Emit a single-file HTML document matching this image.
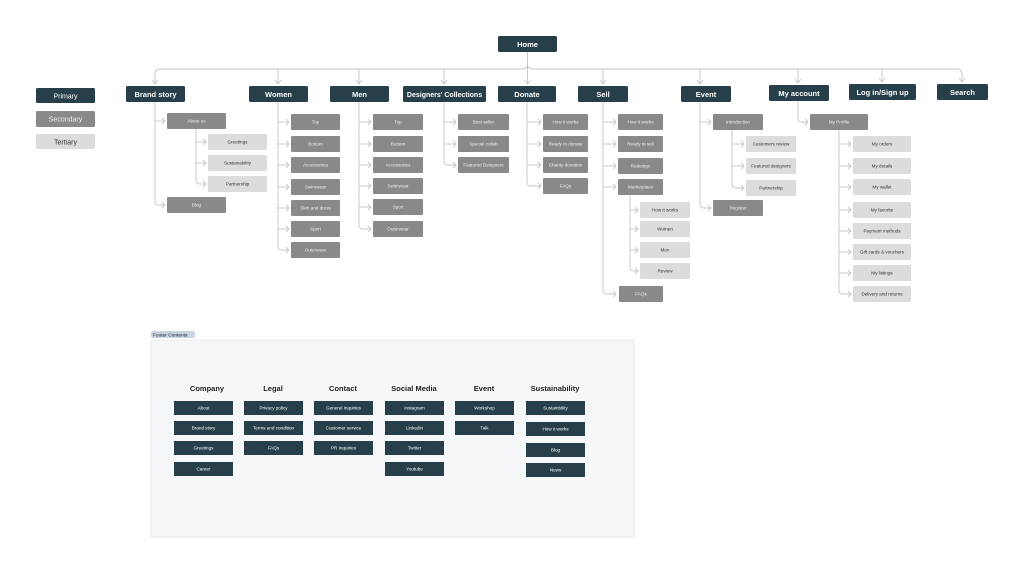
<!DOCTYPE html>
<html><head><meta charset="utf-8"><style>
html,body{margin:0;padding:0;background:#fff;width:1024px;height:574px;overflow:hidden}
svg{display:block;font-family:"Liberation Sans",sans-serif}
.p{fill:#263f4a}.s{fill:#898989}.t{fill:#dcdcdc}
.pt{fill:#fff;font-weight:bold;font-size:7.5px}
.st{fill:#f0f0f0;font-size:4.6px}
.tt{fill:#333;font-size:4.6px}
.ft{fill:#fff;font-size:4.6px}
.h{fill:#222;font-weight:bold;font-size:7.5px}
path,polyline{fill:none;stroke:#c6c6c6;stroke-width:0.9}
</style></head><body>
<svg width="1024" height="574" viewBox="0 0 1024 574">
<path d="M527.5 52 V64 Q527.5 69 522 69 H160 Q155 69 155 74 V84"/>
<path d="M527.5 64 Q527.5 69 533 69 H957 Q962 69 962 74 V82"/>
<path d="M527.5 64 V84"/>
<g>
<path d="M278 69V84"/><path d="M359 69V84"/><path d="M444 69V84"/><path d="M603 69V84"/><path d="M700 69V84"/><path d="M798 69V83"/><path d="M882 69V82"/>
<polyline points="152,80 155,84 158,80"/><polyline points="275,80 278,84 281,80"/><polyline points="356,80 359,84 362,80"/><polyline points="441,80 444,84 447,80"/><polyline points="524.5,80 527.5,84 530.5,80"/><polyline points="600,80 603,84 606,80"/><polyline points="697,80 700,84 703,80"/><polyline points="795,79 798,83 801,79"/><polyline points="879,78 882,82 885,78"/><polyline points="959,78 962,82 965,78"/>
</g>
<rect class="p" x="36" y="88" width="59" height="15" rx="1.5"/><text x="65.5" y="98.3" text-anchor="middle" style="fill:#fff;font-size:7px">Primary</text>
<rect class="s" x="36" y="111" width="59" height="16" rx="1.5"/><text x="65.5" y="121.5" text-anchor="middle" style="fill:#eee;font-size:7px">Secondary</text>
<rect class="t" x="36" y="134" width="59" height="15" rx="1.5"/><text x="65.5" y="144.3" text-anchor="middle" style="fill:#333;font-size:7px">Tertiary</text>
<rect class="p" x="498" y="36" width="59" height="16" rx="1.5"/><text class="pt" x="527.5" y="46.8" text-anchor="middle">Home</text>
<rect class="p" x="126" y="86" width="59" height="16" rx="1.5"/><text class="pt" x="155.5" y="96.8" text-anchor="middle">Brand story</text>
<rect class="p" x="249" y="86" width="59" height="16" rx="1.5"/><text class="pt" x="278.5" y="96.8" text-anchor="middle">Women</text>
<rect class="p" x="330" y="86" width="59" height="16" rx="1.5"/><text class="pt" x="359.5" y="96.8" text-anchor="middle">Men</text>
<rect class="p" x="403" y="86" width="83" height="16" rx="1.5"/><text class="pt" x="444.5" y="96.8" text-anchor="middle" style="font-size:7px">Designers' Collections</text>
<rect class="p" x="498" y="86" width="58" height="16" rx="1.5"/><text class="pt" x="527" y="96.8" text-anchor="middle">Donate</text>
<rect class="p" x="578" y="86" width="50" height="16" rx="1.5"/><text class="pt" x="603" y="96.8" text-anchor="middle">Sell</text>
<rect class="p" x="681" y="86" width="50" height="16" rx="1.5"/><text class="pt" x="706" y="96.8" text-anchor="middle">Event</text>
<rect class="p" x="769" y="85" width="60" height="16" rx="1.5"/><text class="pt" x="799" y="95.8" text-anchor="middle">My account</text>
<rect class="p" x="849" y="84" width="67" height="16" rx="1.5"/><text class="pt" x="882.5" y="94.8" text-anchor="middle">Log in/Sign up</text>
<rect class="p" x="937" y="84" width="51" height="16" rx="1.5"/><text class="pt" x="962.5" y="94.8" text-anchor="middle">Search</text>

<path d="M155 102V201Q155 205 159 205H165"/><path d="M155 121H165"/>
<polyline points="162,118 165,121 162,124"/><polyline points="162,202 165,205 162,208"/>
<rect class="s" x="167" y="113" width="59" height="16" rx="1"/><text class="st" x="196.5" y="122.7" text-anchor="middle">About us</text>
<rect class="s" x="167" y="197" width="59" height="16" rx="1"/><text class="st" x="196.5" y="206.7" text-anchor="middle">Blog</text>
<path d="M196 129V180Q196 184 200 184H206"/><path d="M196 142H206"/><path d="M196 163H206"/>
<polyline points="203,139 206,142 203,145"/><polyline points="203,160 206,163 203,166"/><polyline points="203,181 206,184 203,187"/>
<rect class="t" x="208" y="134" width="59" height="16" rx="1"/><text class="tt" x="237.5" y="143.7" text-anchor="middle">Greetings</text>
<rect class="t" x="208" y="155" width="59" height="16" rx="1"/><text class="tt" x="237.5" y="164.7" text-anchor="middle">Sustainability</text>
<rect class="t" x="208" y="176" width="59" height="16" rx="1"/><text class="tt" x="237.5" y="185.7" text-anchor="middle">Partnership</text>

<path d="M278 102V246Q278 250 282 250H289"/>
<g>
<path d="M278 122H289"/><path d="M278 144H289"/><path d="M278 165H289"/><path d="M278 187H289"/><path d="M278 208H289"/><path d="M278 229H289"/>
<polyline points="286,119 289,122 286,125"/><polyline points="286,141 289,144 286,147"/><polyline points="286,162 289,165 286,168"/><polyline points="286,184 289,187 286,190"/><polyline points="286,205 289,208 286,211"/><polyline points="286,226 289,229 286,232"/><polyline points="286,247 289,250 286,253"/>
</g>
<rect class="s" x="291" y="114" width="49" height="16" rx="1"/><text class="st" x="315.5" y="123.7" text-anchor="middle">Top</text>
<rect class="s" x="291" y="136" width="49" height="16" rx="1"/><text class="st" x="315.5" y="145.7" text-anchor="middle">Bottom</text>
<rect class="s" x="291" y="157" width="49" height="16" rx="1"/><text class="st" x="315.5" y="166.7" text-anchor="middle">Accessories</text>
<rect class="s" x="291" y="179" width="49" height="16" rx="1"/><text class="st" x="315.5" y="188.7" text-anchor="middle">Swimwear</text>
<rect class="s" x="291" y="200" width="49" height="16" rx="1"/><text class="st" x="315.5" y="209.7" text-anchor="middle">Skirt and dress</text>
<rect class="s" x="291" y="221" width="49" height="16" rx="1"/><text class="st" x="315.5" y="230.7" text-anchor="middle">Sport</text>
<rect class="s" x="291" y="242" width="49" height="16" rx="1"/><text class="st" x="315.5" y="251.7" text-anchor="middle">Outerwear</text>

<path d="M359 102V225Q359 229 363 229H371"/>
<path d="M359 122H371"/><path d="M359 144H371"/><path d="M359 165H371"/><path d="M359 186H371"/><path d="M359 207H371"/>
<polyline points="368,119 371,122 368,125"/><polyline points="368,141 371,144 368,147"/><polyline points="368,162 371,165 368,168"/><polyline points="368,183 371,186 368,189"/><polyline points="368,204 371,207 368,210"/><polyline points="368,226 371,229 368,232"/>
<rect class="s" x="373" y="114" width="50" height="16" rx="1"/><text class="st" x="398" y="123.7" text-anchor="middle">Top</text>
<rect class="s" x="373" y="136" width="50" height="16" rx="1"/><text class="st" x="398" y="145.7" text-anchor="middle">Bottom</text>
<rect class="s" x="373" y="157" width="50" height="16" rx="1"/><text class="st" x="398" y="166.7" text-anchor="middle">Accessories</text>
<rect class="s" x="373" y="178" width="50" height="16" rx="1"/><text class="st" x="398" y="187.7" text-anchor="middle">Swimwear</text>
<rect class="s" x="373" y="199" width="50" height="16" rx="1"/><text class="st" x="398" y="208.7" text-anchor="middle">Sport</text>
<rect class="s" x="373" y="221" width="50" height="16" rx="1"/><text class="st" x="398" y="230.7" text-anchor="middle">Outerwear</text>

<path d="M444 102V161Q444 165 448 165H456"/><path d="M444 122H456"/><path d="M444 144H456"/>
<polyline points="453,119 456,122 453,125"/><polyline points="453,141 456,144 453,147"/><polyline points="453,162 456,165 453,168"/>
<rect class="s" x="458" y="114" width="51" height="16" rx="1"/><text class="st" x="483.5" y="123.7" text-anchor="middle">Best seller</text>
<rect class="s" x="458" y="136" width="51" height="16" rx="1"/><text class="st" x="483.5" y="145.7" text-anchor="middle">Special collab</text>
<rect class="s" x="458" y="157" width="51" height="16" rx="1"/><text class="st" x="483.5" y="166.7" text-anchor="middle">Featured Designers</text>

<path d="M527 102V182Q527 186 531 186H541"/><path d="M527 122H541"/><path d="M527 144H541"/><path d="M527 165H541"/>
<polyline points="538,119 541,122 538,125"/><polyline points="538,141 541,144 538,147"/><polyline points="538,162 541,165 538,168"/><polyline points="538,183 541,186 538,189"/>
<rect class="s" x="543" y="114" width="45" height="16" rx="1"/><text class="st" x="565.5" y="123.7" text-anchor="middle">How it works</text>
<rect class="s" x="543" y="136" width="45" height="16" rx="1"/><text class="st" x="565.5" y="145.7" text-anchor="middle">Ready to donate</text>
<rect class="s" x="543" y="157" width="45" height="16" rx="1"/><text class="st" x="565.5" y="166.7" text-anchor="middle">Charity donation</text>
<rect class="s" x="543" y="178" width="45" height="16" rx="1"/><text class="st" x="565.5" y="187.7" text-anchor="middle">FAQs</text>

<path d="M603 102V290Q603 294 607 294H616"/><path d="M603 122H616"/><path d="M603 144H616"/><path d="M603 166H616"/><path d="M603 187H616"/>
<polyline points="613,119 616,122 613,125"/><polyline points="613,141 616,144 613,147"/><polyline points="613,163 616,166 613,169"/><polyline points="613,184 616,187 613,190"/><polyline points="613,291 616,294 613,297"/>
<rect class="s" x="618" y="114" width="45" height="16" rx="1"/><text class="st" x="640.5" y="123.7" text-anchor="middle">How it works</text>
<rect class="s" x="618" y="136" width="45" height="16" rx="1"/><text class="st" x="640.5" y="145.7" text-anchor="middle">Ready to sell</text>
<rect class="s" x="618" y="158" width="45" height="16" rx="1"/><text class="st" x="640.5" y="167.7" text-anchor="middle">Redesign</text>
<rect class="s" x="618" y="179" width="45" height="16" rx="1"/><text class="st" x="640.5" y="188.7" text-anchor="middle">Marketplace</text>
<rect class="s" x="619" y="286" width="44" height="16" rx="1"/><text class="st" x="641" y="295.7" text-anchor="middle">FAQs</text>
<path d="M630 195V267Q630 271 634 271H638"/><path d="M630 210H638"/><path d="M630 229H638"/><path d="M630 250H638"/>
<polyline points="635,207 638,210 635,213"/><polyline points="635,226 638,229 635,232"/><polyline points="635,247 638,250 635,253"/><polyline points="635,268 638,271 635,274"/>
<rect class="t" x="640" y="202" width="50" height="16" rx="1"/><text class="tt" x="665" y="211.7" text-anchor="middle">How it works</text>
<rect class="t" x="640" y="221" width="50" height="16" rx="1"/><text class="tt" x="665" y="230.7" text-anchor="middle">Women</text>
<rect class="t" x="640" y="242" width="50" height="16" rx="1"/><text class="tt" x="665" y="251.7" text-anchor="middle">Men</text>
<rect class="t" x="640" y="263" width="50" height="16" rx="1"/><text class="tt" x="665" y="272.7" text-anchor="middle">Review</text>

<path d="M700 102V204Q700 208 704 208H711"/><path d="M700 122H711"/>
<polyline points="708,119 711,122 708,125"/><polyline points="708,205 711,208 708,211"/>
<rect class="s" x="713" y="114" width="50" height="16" rx="1"/><text class="st" x="738" y="123.7" text-anchor="middle">Introduction</text>
<rect class="s" x="713" y="200" width="50" height="16" rx="1"/><text class="st" x="738" y="209.7" text-anchor="middle">Register</text>
<path d="M732 130V184Q732 188 736 188H744"/><path d="M732 144H744"/><path d="M732 166H744"/>
<polyline points="741,141 744,144 741,147"/><polyline points="741,163 744,166 741,169"/><polyline points="741,185 744,188 741,191"/>
<rect class="t" x="746" y="136" width="50" height="16" rx="1"/><text class="tt" x="771" y="145.7" text-anchor="middle">Customers review</text>
<rect class="t" x="746" y="158" width="50" height="16" rx="1"/><text class="tt" x="771" y="167.7" text-anchor="middle">Featured designers</text>
<rect class="t" x="746" y="180" width="50" height="16" rx="1"/><text class="tt" x="771" y="189.7" text-anchor="middle">Partnership</text>

<path d="M798 101V118Q798 122 802 122H808"/><polyline points="805,119 808,122 805,125"/>
<rect class="s" x="810" y="114" width="58" height="16" rx="1"/><text class="st" x="839" y="123.7" text-anchor="middle">My Profile</text>
<path d="M839 130V290Q839 294 843 294H851"/>
<path d="M839 144H851"/><path d="M839 166H851"/><path d="M839 187H851"/><path d="M839 210H851"/><path d="M839 231H851"/><path d="M839 252H851"/><path d="M839 273H851"/>
<polyline points="848,141 851,144 848,147"/><polyline points="848,163 851,166 848,169"/><polyline points="848,184 851,187 848,190"/><polyline points="848,207 851,210 848,213"/><polyline points="848,228 851,231 848,234"/><polyline points="848,249 851,252 848,255"/><polyline points="848,270 851,273 848,276"/><polyline points="848,291 851,294 848,297"/>
<rect class="t" x="853" y="136" width="58" height="16" rx="1"/><text class="tt" x="882" y="145.7" text-anchor="middle">My orders</text>
<rect class="t" x="853" y="158" width="58" height="16" rx="1"/><text class="tt" x="882" y="167.7" text-anchor="middle">My details</text>
<rect class="t" x="853" y="179" width="58" height="16" rx="1"/><text class="tt" x="882" y="188.7" text-anchor="middle">My wallet</text>
<rect class="t" x="853" y="202" width="58" height="16" rx="1"/><text class="tt" x="882" y="211.7" text-anchor="middle">My favorite</text>
<rect class="t" x="853" y="223" width="58" height="16" rx="1"/><text class="tt" x="882" y="232.7" text-anchor="middle">Payment methods</text>
<rect class="t" x="853" y="244" width="58" height="16" rx="1"/><text class="tt" x="882" y="253.7" text-anchor="middle">Gift cards &amp; vouchers</text>
<rect class="t" x="853" y="265" width="58" height="16" rx="1"/><text class="tt" x="882" y="274.7" text-anchor="middle">My listings</text>
<rect class="t" x="853" y="286" width="58" height="16" rx="1"/><text class="tt" x="882" y="295.7" text-anchor="middle">Delivery and returns</text>

<rect x="151" y="331" width="44" height="7" rx="2" fill="#c9d3e3"/><text x="153" y="336.5" style="fill:#222;font-size:4.8px">Footer Contents</text>
<rect x="151" y="340" width="483" height="197" rx="1.5" fill="#f6f7f9" stroke="#e3e5ea" stroke-width="0.8"/>
<g text-anchor="middle">
<text class="h" x="207" y="391">Company</text><text class="h" x="273" y="391">Legal</text><text class="h" x="343" y="391">Contact</text><text class="h" x="414" y="391">Social Media</text><text class="h" x="484" y="391">Event</text><text class="h" x="555" y="391">Sustainability</text>
</g>
<g class="p">
<rect x="174" y="401" width="59" height="14"/><rect x="174" y="421" width="59" height="14"/><rect x="174" y="441" width="59" height="14"/><rect x="174" y="462" width="59" height="14"/>
<rect x="244" y="401" width="59" height="14"/><rect x="244" y="421" width="59" height="14"/><rect x="244" y="441" width="59" height="14"/>
<rect x="314" y="401" width="59" height="14"/><rect x="314" y="421" width="59" height="14"/><rect x="314" y="441" width="59" height="14"/>
<rect x="385" y="401" width="59" height="14"/><rect x="385" y="421" width="59" height="14"/><rect x="385" y="441" width="59" height="14"/><rect x="385" y="462" width="59" height="14"/>
<rect x="455" y="401" width="59" height="14"/><rect x="455" y="421" width="59" height="14"/>
<rect x="526" y="401" width="59" height="14"/><rect x="526" y="422" width="59" height="14"/><rect x="526" y="443" width="59" height="14"/><rect x="526" y="463" width="59" height="14"/>
</g>
<g text-anchor="middle">
<text class="ft" x="203.5" y="409.7">About</text><text class="ft" x="203.5" y="429.7">Brand story</text><text class="ft" x="203.5" y="449.7">Greetings</text><text class="ft" x="203.5" y="470.7">Career</text>
<text class="ft" x="273.5" y="409.7">Privacy policy</text><text class="ft" x="273.5" y="429.7">Terms and condition</text><text class="ft" x="273.5" y="449.7">FAQs</text>
<text class="ft" x="343.5" y="409.7">General Inquiries</text><text class="ft" x="343.5" y="429.7">Customer service</text><text class="ft" x="343.5" y="449.7">PR Inquiries</text>
<text class="ft" x="414.5" y="409.7">Instagram</text><text class="ft" x="414.5" y="429.7">Linkedin</text><text class="ft" x="414.5" y="449.7">Twitter</text><text class="ft" x="414.5" y="470.7">Youtube</text>
<text class="ft" x="484.5" y="409.7">Workshop</text><text class="ft" x="484.5" y="429.7">Talk</text>
<text class="ft" x="555.5" y="409.7">Sustainbility</text><text class="ft" x="555.5" y="430.7">How it works</text><text class="ft" x="555.5" y="451.7">Blog</text><text class="ft" x="555.5" y="471.7">News</text>
</g>
</svg>
</body></html>
